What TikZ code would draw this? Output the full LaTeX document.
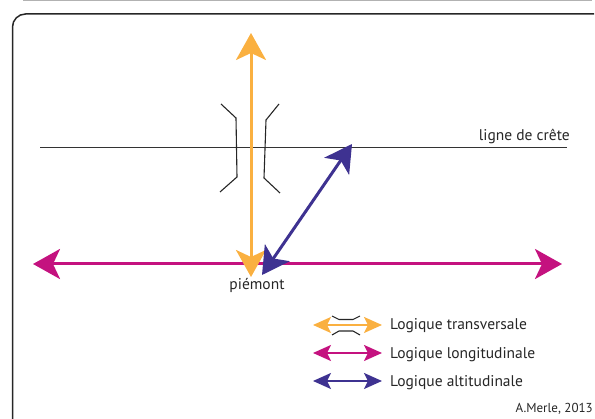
\documentclass[tikz,border=0pt]{standalone}
\usepackage{fontspec}
\setmainfont{PT Sans}
\usetikzlibrary{arrows.meta}
\definecolor{orangeT}{RGB}{250,176,64}
\definecolor{magentaL}{RGB}{196,18,127}
\definecolor{violetA}{RGB}{62,50,145}
\tikzset{
  fleche/.style={line width=3pt, {Stealth[length=27pt,width=30pt,inset=7pt]}-{Stealth[length=27pt,width=30pt,inset=7pt]}},
  petite/.style={line width=2.2pt, {Stealth[length=18pt,width=16pt,inset=4pt]}-{Stealth[length=18pt,width=16pt,inset=4pt]}},
  pont/.style={line width=1.1pt, black!85},
  texte/.style={font=\fontsize{15.5}{18}\selectfont, text=black!85, inner sep=0pt}
}

\begin{document}
\begin{tikzpicture}[x=1pt,y=-1pt]
\useasboundingbox (0,0) rectangle (595,419);
\draw[black!30, line width=1pt] (23,0.8) -- (592,0.8);
\draw[black!85, line width=1.5pt, rounded corners=13pt] (12.5,422) -- (12.5,14) -- (594,14);
\draw[black!80, line width=1.4pt] (40,147.5) -- (567,147.5);
\node[texte, anchor=base east] (crete) at (570,141) {ligne de crête};
\draw[pont] (221,104) -- (236,118) -- (237,177) -- (220,192);
\draw[pont] (279,104) -- (266,120) -- (264,178) -- (280,193);
\coordinate (haut) at (251,33);
\coordinate (piedT) at (251,277);
\coordinate (gauche) at (33,264);
\coordinate (droite) at (562,264);
\coordinate (piedA) at (262,275);
\coordinate (sommet) at (352,144);
\draw[fleche, magentaL] (gauche) -- (droite);
\draw[fleche, orangeT] (haut) -- (piedT);
\draw[fleche, violetA] (piedA) -- (sommet);
\node[texte, anchor=base] (piemont) at (257,290) {piémont};
\coordinate (t1) at (313,325);
\coordinate (t2) at (382,325);
\coordinate (l1) at (313,353);
\coordinate (l2) at (382,353);
\coordinate (a1) at (313,381);
\coordinate (a2) at (382,381);
\draw[petite, orangeT] (t1) -- (t2);
\draw[petite, magentaL] (l1) -- (l2);
\draw[petite, violetA] (a1) -- (a2);
\draw[pont] (332,316) -- (339,319.5) -- (353,319.5) -- (360,316);
\draw[pont] (332,335) -- (339,331) -- (353,331) -- (360,335);
\node[texte, anchor=base west] (trans) at (390,330) {Logique transversale};
\node[texte, anchor=base west] (longi) at (390,359) {Logique longitudinale};
\node[texte, anchor=base west] (alti) at (390,387) {Logique altitudinale};
\node[texte, font=\fontsize{13}{15}\selectfont, anchor=base east] (auteur) at (593,413) {A.Merle, 2013};
\end{tikzpicture}
\end{document}
